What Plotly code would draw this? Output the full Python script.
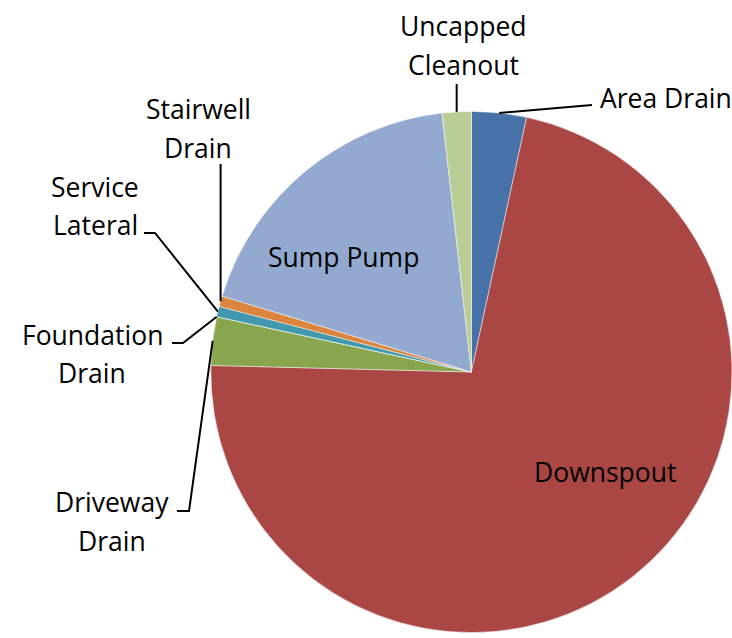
import math
import plotly.graph_objects as go

# ---- data ----
labels = ["Area Drain", "Downspout", "Driveway Drain", "Foundation Drain",
          "Service Lateral", "Stairwell Drain", "Sump Pump", "Uncapped Cleanout"]
values = [3.4, 72.0, 3.0, 0.0, 0.65, 0.65, 18.5, 1.8]
colors = ["#4672A8", "#AA4644", "#89A54E", "#71588F",
          "#4198AF", "#DB843D", "#93A9CF", "#B9CD96"]

# ---- layout / geometry ----
W, H = 732, 638
dom_x = [0.288, 1.0]
dom_y = [0.0063, 0.8276]
cx = (dom_x[0] + dom_x[1]) / 2 * W
cy = H - (dom_y[0] + dom_y[1]) / 2 * H
R = min((dom_x[1] - dom_x[0]) * W, (dom_y[1] - dom_y[0]) * H) / 2

FONT = "Open Sans, sans-serif"
FS = 26.5

def px(x, y):
    return x / W, 1 - y / H

# mid-angle anchor of each slice on the pie edge (clockwise from 12 o'clock)
total = sum(values)
anchors = {}
acc = 0.0
for lab, v in zip(labels, values):
    mid = (acc + v / 2) / total * 2 * math.pi
    anchors[lab] = (cx + R * math.sin(mid), cy - R * math.cos(mid))
    acc += v

fig = go.Figure(go.Pie(
    labels=labels, values=values, sort=False, direction="clockwise", rotation=0,
    marker=dict(colors=colors, line=dict(color="rgba(255,255,255,0.6)", width=0.8)),
    textinfo="none", hoverinfo="label+percent",
    domain=dict(x=dom_x, y=dom_y), showlegend=False,
))

# text lines: (text, center x px, center y px)
text_lines = [
    ("Uncapped", 463, 26), ("Cleanout", 463, 65),
    ("Area Drain", 666, 98),
    ("Stairwell", 198, 109), ("Drain", 198, 148),
    ("Service", 95, 187), ("Lateral", 95, 225),
    ("Foundation", 92, 335), ("Drain", 92, 373),
    ("Driveway", 112, 502), ("Drain", 112, 541),
    ("Sump Pump", 343, 257),
    ("Downspout", 605, 472),
]
annotations = []
for t, x, y in text_lines:
    ax, ay = px(x, y)
    annotations.append(dict(text=t, x=ax, y=ay, xref="paper", yref="paper",
                            xanchor="center", yanchor="middle", showarrow=False,
                            font=dict(family=FONT, size=FS, color="#000000")))

# leader lines: fixed elbow points then the slice anchor
leaders = {
    "Uncapped Cleanout": [(None, 84)],
    "Area Drain": [(592, 105)],
    "Stairwell Drain": [(None, 164)],
    "Service Lateral": [(144, 233), (155, 233)],
    "Foundation Drain": [(172, 343), (183, 343)],
    "Driveway Drain": [(177, 511), (189, 511)],
}
shapes = []
for lab, pts in leaders.items():
    axp, ayp = anchors[lab]
    pts = [(axp if x is None else x, y) for x, y in pts] + [(axp, ayp)]
    path = ""
    for i, (x, y) in enumerate(pts):
        X, Y = px(x, y)
        path += ("M" if i == 0 else "L") + f"{X:.5f},{Y:.5f}"
    shapes.append(dict(type="path", path=path, xref="paper", yref="paper",
                       line=dict(color="#000000", width=2)))

fig.update_layout(
    width=W, height=H, margin=dict(l=0, r=0, t=0, b=0),
    paper_bgcolor="white", plot_bgcolor="white",
    annotations=annotations, shapes=shapes,
)
fig.write_html("out.html", config={"displayModeBar": False},
               post_script="document.body.style.margin='0';document.body.style.overflow='hidden';")
